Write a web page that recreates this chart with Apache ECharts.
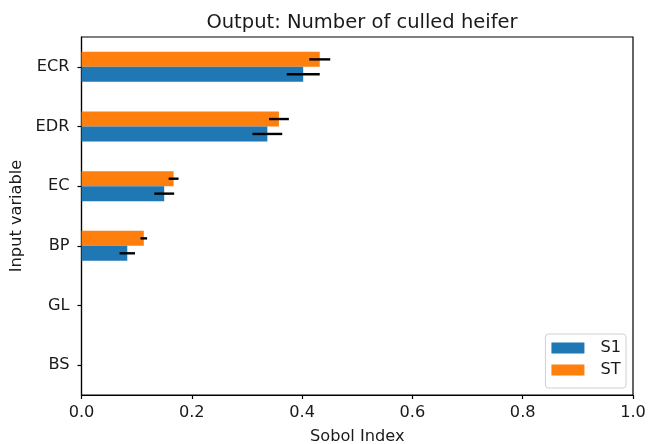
<!DOCTYPE html>
<html>
<head>
<meta charset="utf-8">
<script src="https://cdn.jsdelivr.net/npm/echarts@6/dist/echarts.min.js"></script>
<style>
  html, body { margin: 0; padding: 0; background: #fff; }
  #chart { width: 651px; height: 444px; }
</style>
</head>
<body>
<div id="chart"></div>
<script>
// Sobol sensitivity indices for the culled-heifer output
const categories = ['ECR', 'EDR', 'EC', 'BP', 'GL', 'BS'];
const s1 = [0.402, 0.337, 0.150, 0.083, 0, 0];
const st = [0.432, 0.358, 0.167, 0.113, 0, 0];
const s1Conf = [0.030, 0.027, 0.018, 0.014, 0, 0];
const stConf = [0.019, 0.018, 0.009, 0.006, 0, 0];
const xTicks = [0, 0.2, 0.4, 0.6, 0.8, 1.0];

const FONT = 'DejaVu Sans';
const TEXT = '#1a1a1a';
const FS = 16.2;

// Horizontal error line drawn at the centre of a bar slot (side: -1 upper, +1 lower)
function errorBar(side) {
  return function (params, api) {
    const v = api.value(0), cat = api.value(1), e = api.value(2);
    if (!e) return null;
    const band = Math.abs(api.size([0, 1])[1]);
    const off = side * band / 8;
    const a = api.coord([v - e, cat]);
    const b = api.coord([v + e, cat]);
    return {
      type: 'line',
      shape: { x1: a[0], y1: a[1] + off, x2: b[0], y2: b[1] + off },
      style: { stroke: '#000', lineWidth: 2.4 },
      z2: 10
    };
  };
}

const chart = echarts.init(document.getElementById('chart'), null, { renderer: 'canvas' });
chart.setOption({
  animation: false,
  textStyle: { fontFamily: FONT },
  title: {
    text: 'Output: Number of culled heifer',
    left: 357, textAlign: 'center', top: 8,
    textStyle: { fontFamily: FONT, fontSize: 19.5, fontWeight: 'normal', color: TEXT }
  },
  legend: {
    orient: 'vertical',
    right: 25, bottom: 56,
    data: ['S1', 'ST'],
    itemWidth: 33, itemHeight: 11, itemGap: 6,
    padding: [6, 5, 10, 6],
    borderColor: '#d0d0d0', borderWidth: 1, borderRadius: 3,
    backgroundColor: '#fff',
    icon: 'rect',
    textStyle: { fontFamily: FONT, fontSize: FS, color: TEXT, padding: [0, 0, 0, 11] }
  },
  grid: {
    left: 81.5, right: 18, top: 37, bottom: 49,
    outerBoundsMode: 'none', containLabel: false,
    show: true, borderColor: '#000', borderWidth: 1.2, backgroundColor: 'transparent'
  },
  xAxis: {
    type: 'value', min: 0, max: 1, interval: 0.2,
    name: 'Sobol Index', nameLocation: 'middle', nameGap: 34,
    nameTextStyle: { fontFamily: FONT, fontSize: FS, color: TEXT },
    axisLine: { show: true, lineStyle: { color: '#000', width: 1.2 } },
    axisTick: { show: true, length: 4, lineStyle: { color: '#000', width: 1.2 } },
    splitLine: { show: false },
    axisLabel: {
      margin: 10, fontFamily: FONT, fontSize: FS, color: TEXT,
      formatter: v => xTicks.some(t => Math.abs(t - v) < 1e-9) ? v.toFixed(1) : ''
    }
  },
  yAxis: {
    type: 'category', data: categories, inverse: true,
    name: 'Input variable', nameLocation: 'middle', nameGap: 54,
    nameTextStyle: { fontFamily: FONT, fontSize: FS, color: TEXT },
    axisLine: { show: true, lineStyle: { color: '#000', width: 1.2 } },
    axisTick: { show: true, alignWithLabel: true, length: 4, lineStyle: { color: '#000', width: 1.2 } },
    axisLabel: { margin: 12, fontFamily: FONT, fontSize: FS, color: TEXT },
    splitLine: { show: false }
  },
  series: [
    {
      name: 'ST', type: 'bar', data: st, barWidth: 15, barGap: '0%',
      itemStyle: { color: '#ff7f0e' }
    },
    {
      name: 'S1', type: 'bar', data: s1, barWidth: 15, barGap: '0%',
      itemStyle: { color: '#1f77b4' }
    },
    {
      type: 'custom', renderItem: errorBar(-1), z: 5,
      encode: { x: 0, y: 1 },
      data: st.map((v, i) => [v, i, stConf[i]])
    },
    {
      type: 'custom', renderItem: errorBar(1), z: 5,
      encode: { x: 0, y: 1 },
      data: s1.map((v, i) => [v, i, s1Conf[i]])
    }
  ]
});
</script>
</body>
</html>
